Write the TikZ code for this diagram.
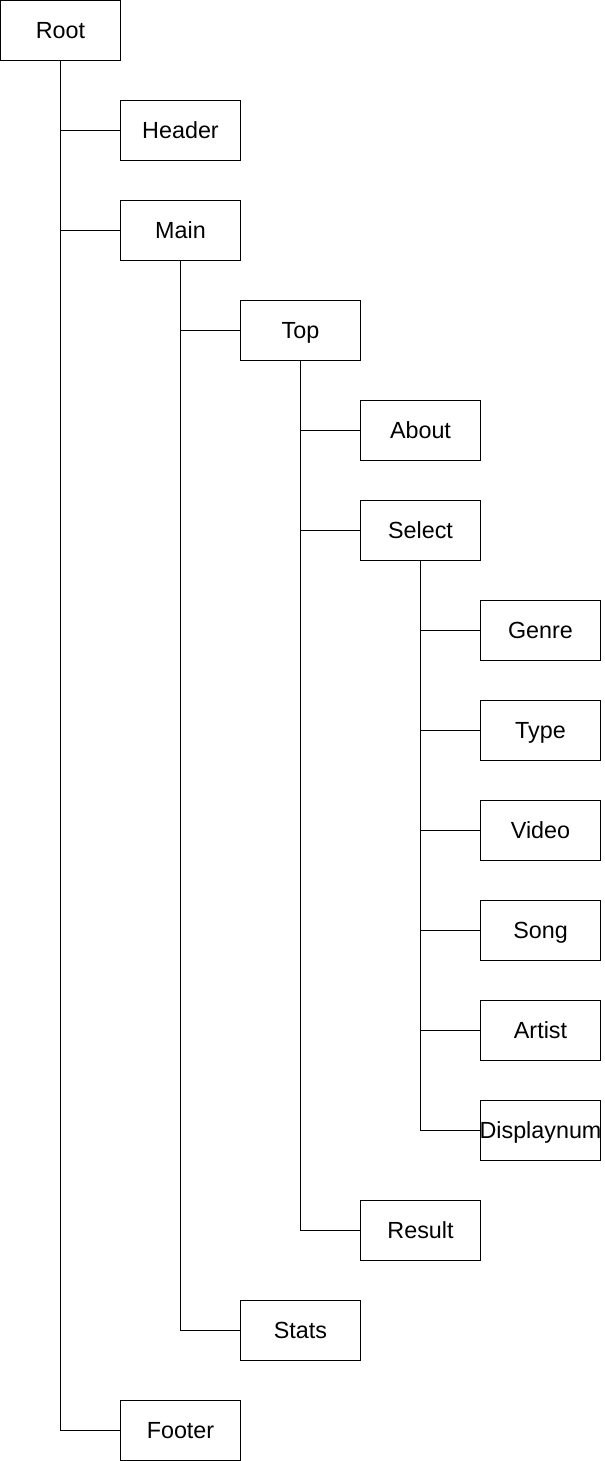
\documentclass[tikz,border=0pt]{standalone}
\usepackage{fontspec}
\setmainfont{Liberation Sans}
\usetikzlibrary{positioning}
\tikzset{box/.style={draw, line width=0.75pt, minimum width=90pt, minimum height=45pt, inner sep=0pt,
    text height=12.5pt, text depth=0pt, font=\fontsize{17.5}{20}\selectfont},
  link/.style={line width=0.75pt}}

\begin{document}
\begin{tikzpicture}[x=0.75pt, y=0.75pt]
  \useasboundingbox (0,0) rectangle (604,-1461);
  % boxes: name/text/level/row
  \foreach \n/\t/\lv/\r in {root/Root/0/0, header/Header/1/1, main/Main/1/2,
      top/Top/2/3, about/About/3/4, select/Select/3/5,
      genre/Genre/4/6, type/Type/4/7, video/Video/4/8, song/Song/4/9,
      artist/Artist/4/10, displaynum/Displaynum/4/11,
      result/Result/3/12, stats/Stats/2/13, footer/Footer/1/14}{
    \node[box] (\n) at (\lv*120+60.5, -\r*100-30.5) {\makebox[0pt]{\t}};
  }
  % tree links
  \foreach \p/\c in {root/header, root/main, root/footer,
      main/top, main/stats, top/about, top/select, top/result,
      select/genre, select/type, select/video, select/song,
      select/artist, select/displaynum}{
    \draw[link] (\p.south) |- (\c.west);
  }
\end{tikzpicture}
\end{document}
